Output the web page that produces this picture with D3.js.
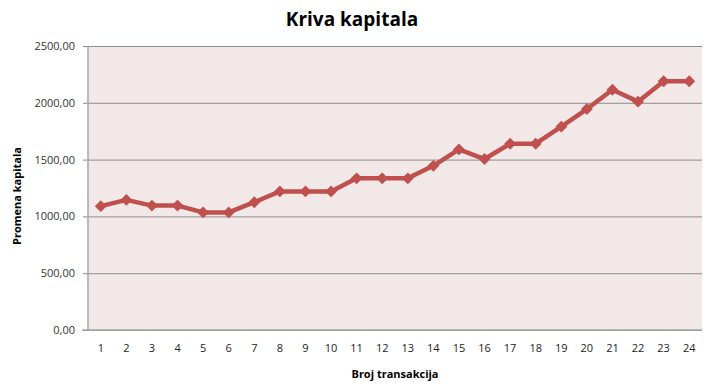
<!DOCTYPE html>
<html>
<head>
<meta charset="utf-8">
<script src="https://cdn.jsdelivr.net/npm/d3@7"></script>
<style>
  body { margin: 0; background: #fff; overflow: hidden; }
  svg { display: block; }
  text { font-family: "Open Sans", "Noto Sans", sans-serif; }
</style>
</head>
<body>
<div id="chart"></div>
<script>
// data
const transakcije = d3.range(1, 25);
const kapital = [1090, 1145, 1095, 1095, 1035, 1035, 1125, 1220, 1220, 1220, 1335, 1335,
                 1335, 1445, 1590, 1505, 1640, 1640, 1790, 1945, 2115, 2010, 2190, 2190];
const yTicks = [0, 500, 1000, 1500, 2000, 2500];

const width = 712, height = 392;
const margin = { top: 46, right: 10, bottom: 62, left: 88 };
const innerWidth = width - margin.left - margin.right;
const innerHeight = height - margin.top - margin.bottom;

const svg = d3.select('#chart').append('svg')
  .attr('width', width)
  .attr('height', height);

const g = svg.append('g')
  .attr('transform', `translate(${margin.left},${margin.top})`);

const x = d3.scaleBand()
  .domain(transakcije)
  .range([0, innerWidth]);

const y = d3.scaleLinear()
  .domain([0, 2500])
  .range([innerHeight, 0]);

const fmt = d => d3.format('.2f')(d).replace('.', ',');

// plot background
g.append('rect')
  .attr('width', innerWidth)
  .attr('height', innerHeight)
  .attr('fill', '#f2e8e8');

// gridlines + y axis
const yAxis = g.append('g')
  .call(d3.axisLeft(y).tickValues(yTicks).tickFormat(fmt).tickSize(-innerWidth - 5).tickPadding(8))
  .attr('transform', 'translate(-5,0)');
yAxis.select('.domain').remove();
yAxis.selectAll('.tick line').attr('stroke', '#8c8c8c');
yAxis.selectAll('.tick text').attr('font-size', 11).attr('fill', '#333');

// left axis line
g.append('line')
  .attr('x1', 0).attr('x2', 0)
  .attr('y1', 0).attr('y2', innerHeight)
  .attr('stroke', '#a6a6a6').attr('stroke-width', 1.5);

// x axis
const xAxis = g.append('g')
  .attr('transform', `translate(0,${innerHeight})`)
  .call(d3.axisBottom(x).tickSize(0).tickPadding(14));
xAxis.select('.domain').attr('stroke', '#a6a6a6').attr('stroke-width', 1.5)
  .attr('d', `M-6,0H${innerWidth}`);
xAxis.selectAll('.tick text').attr('font-size', 11).attr('fill', '#222');

// line
const line = d3.line()
  .x((d, i) => x(transakcije[i]) + x.bandwidth() / 2)
  .y(d => y(d));

g.append('path')
  .datum(kapital)
  .attr('fill', 'none')
  .attr('stroke', '#c0504d')
  .attr('stroke-width', 4.5)
  .attr('stroke-linejoin', 'round')
  .attr('d', line);

// diamond markers
g.selectAll('.marker')
  .data(kapital)
  .enter()
  .append('path')
  .attr('class', 'marker')
  .attr('d', d3.symbol().type(d3.symbolDiamond2).size(90))
  .attr('transform', (d, i) => `translate(${x(transakcije[i]) + x.bandwidth() / 2},${y(d)})`)
  .attr('fill', '#c0504d');

// title
svg.append('text')
  .attr('x', 352).attr('y', 26)
  .attr('text-anchor', 'middle')
  .attr('font-size', 19)
  .attr('font-weight', 'bold')
  .text('Kriva kapitala');

// axis titles
svg.append('text')
  .attr('x', 395).attr('y', 378)
  .attr('text-anchor', 'middle')
  .attr('font-size', 11)
  .attr('font-weight', 'bold')
  .text('Broj transakcija');

svg.append('text')
  .attr('transform', 'translate(21,196) rotate(-90)')
  .attr('text-anchor', 'middle')
  .attr('font-size', 11)
  .attr('font-weight', 'bold')
  .text('Promena kapitala');
</script>
</body>
</html>
